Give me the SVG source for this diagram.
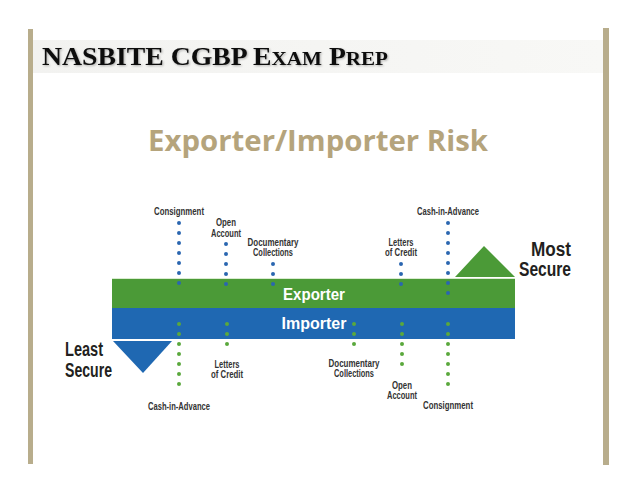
<svg xmlns="http://www.w3.org/2000/svg" width="638" height="493" viewBox="0 0 638 493">
<style>
.side{fill:#b8ad8c}
.lbl{font-family:"Liberation Sans",Arial,sans-serif;font-weight:bold;font-size:10px;fill:#333333;text-anchor:middle}
.sec{font-family:"Liberation Sans",Arial,sans-serif;font-weight:bold;font-size:20px;fill:#231f20}
.bar{font-family:"Liberation Sans",Arial,sans-serif;font-weight:bold;font-size:17px;fill:#ffffff;text-anchor:middle}
.bd{stroke:#2a66b0;stroke-width:4;stroke-linecap:round;stroke-dasharray:0 10;fill:none}
.gd{stroke:#5aa83c;stroke-width:4;stroke-linecap:round;stroke-dasharray:0 10;fill:none}
</style>
<defs>
<linearGradient id="band" x1="0" y1="0" x2="1" y2="0">
<stop offset="0" stop-color="#f2f2f0"/>
<stop offset="1" stop-color="#f8f8f6"/>
</linearGradient>
<filter id="sh" x="-5%" y="-20%" width="110%" height="150%">
<feGaussianBlur in="SourceAlpha" stdDeviation="0.8"/>
<feOffset dx="1" dy="1" result="b"/>
<feComponentTransfer><feFuncA type="linear" slope="0.3"/></feComponentTransfer>
<feMerge><feMergeNode/><feMergeNode in="SourceGraphic"/></feMerge>
</filter>
</defs>
<rect width="638" height="493" fill="#ffffff"/>
<g id="frame">
<rect class="side" x="28" y="29" width="5" height="435"/>
<rect class="side" x="603" y="28" width="6" height="437"/>
</g>
<g id="header">
<rect x="33" y="40" width="570" height="33" fill="url(#band)"/>
<text x="42" y="65" font-family="Liberation Serif,'Times New Roman',serif" font-weight="bold" font-size="25" fill="#111" filter="url(#sh)" textLength="346" lengthAdjust="spacingAndGlyphs">NASBITE CGBP E<tspan font-size="19">XAM</tspan> P<tspan font-size="19">REP</tspan></text>
</g>
<g id="title">
<text x="318" y="151" font-family="'Open Sans','Liberation Sans',sans-serif" font-weight="bold" font-size="29" fill="#b5a47c" text-anchor="middle" textLength="340" lengthAdjust="spacingAndGlyphs">Exporter/Importer Risk</text>
</g>
<g id="exporter">
<rect x="112" y="278" width="403" height="30" fill="#4b9a37"/>
<line x1="112" y1="278.5" x2="515" y2="278.5" stroke="#d9ecd0" stroke-width="1"/>
<text class="bar" x="314" y="300" textLength="62" lengthAdjust="spacingAndGlyphs">Exporter</text>
</g>
<g id="importer">
<rect x="112" y="308" width="403" height="31" fill="#1f68b2"/>
<text class="bar" x="314" y="329" textLength="65" lengthAdjust="spacingAndGlyphs">Importer</text>
</g>
<g id="most-secure">
<polygon points="455,277 484,246 515,277" fill="#4b9a37"/>
<text class="sec" x="571" y="256" text-anchor="end" textLength="40" lengthAdjust="spacingAndGlyphs">Most</text>
<text class="sec" x="571" y="276" text-anchor="end" textLength="52" lengthAdjust="spacingAndGlyphs">Secure</text>
</g>
<g id="least-secure">
<polygon points="113,341 172,341 143,373" fill="#1f68b2"/>
<text class="sec" x="65" y="356" textLength="38" lengthAdjust="spacingAndGlyphs">Least</text>
<text class="sec" x="65" y="377" textLength="47" lengthAdjust="spacingAndGlyphs">Secure</text>
</g>
<g id="connectors">
<line class="bd" x1="179" y1="223" x2="179" y2="293"/>
<line class="bd" x1="226" y1="244" x2="226" y2="294"/>
<line class="bd" x1="273" y1="264" x2="273" y2="294"/>
<line class="bd" x1="401" y1="264" x2="401" y2="294"/>
<line class="bd" x1="448" y1="223" x2="448" y2="294"/>
<line class="gd" x1="179" y1="324" x2="179" y2="394"/>
<line class="gd" x1="227" y1="324" x2="227" y2="354"/>
<line class="gd" x1="354" y1="324" x2="354" y2="354"/>
<line class="gd" x1="402" y1="324" x2="402" y2="374"/>
<line class="gd" x1="448" y1="324" x2="448" y2="394"/>
</g>
<g id="exp-consignment"><text class="lbl" x="179" y="215" textLength="50" lengthAdjust="spacingAndGlyphs">Consignment</text></g>
<g id="exp-open-account"><text class="lbl" x="226" y="226" textLength="20" lengthAdjust="spacingAndGlyphs">Open</text><text class="lbl" x="226" y="237" textLength="30" lengthAdjust="spacingAndGlyphs">Account</text></g>
<g id="exp-documentary"><text class="lbl" x="273" y="246" textLength="51" lengthAdjust="spacingAndGlyphs">Documentary</text><text class="lbl" x="273" y="256" textLength="40" lengthAdjust="spacingAndGlyphs">Collections</text></g>
<g id="exp-letters"><text class="lbl" x="401" y="246" textLength="25" lengthAdjust="spacingAndGlyphs">Letters</text><text class="lbl" x="401" y="256" textLength="32" lengthAdjust="spacingAndGlyphs">of Credit</text></g>
<g id="exp-cash"><text class="lbl" x="448" y="215" textLength="62" lengthAdjust="spacingAndGlyphs">Cash-in-Advance</text></g>
<g id="imp-cash"><text class="lbl" x="179" y="410" textLength="62" lengthAdjust="spacingAndGlyphs">Cash-in-Advance</text></g>
<g id="imp-letters"><text class="lbl" x="227" y="368" textLength="25" lengthAdjust="spacingAndGlyphs">Letters</text><text class="lbl" x="227" y="378" textLength="32" lengthAdjust="spacingAndGlyphs">of Credit</text></g>
<g id="imp-documentary"><text class="lbl" x="354" y="367" textLength="51" lengthAdjust="spacingAndGlyphs">Documentary</text><text class="lbl" x="354" y="377" textLength="40" lengthAdjust="spacingAndGlyphs">Collections</text></g>
<g id="imp-open-account"><text class="lbl" x="402" y="389" textLength="20" lengthAdjust="spacingAndGlyphs">Open</text><text class="lbl" x="402" y="399" textLength="30" lengthAdjust="spacingAndGlyphs">Account</text></g>
<g id="imp-consignment"><text class="lbl" x="448" y="409" textLength="50" lengthAdjust="spacingAndGlyphs">Consignment</text></g>
</svg>
